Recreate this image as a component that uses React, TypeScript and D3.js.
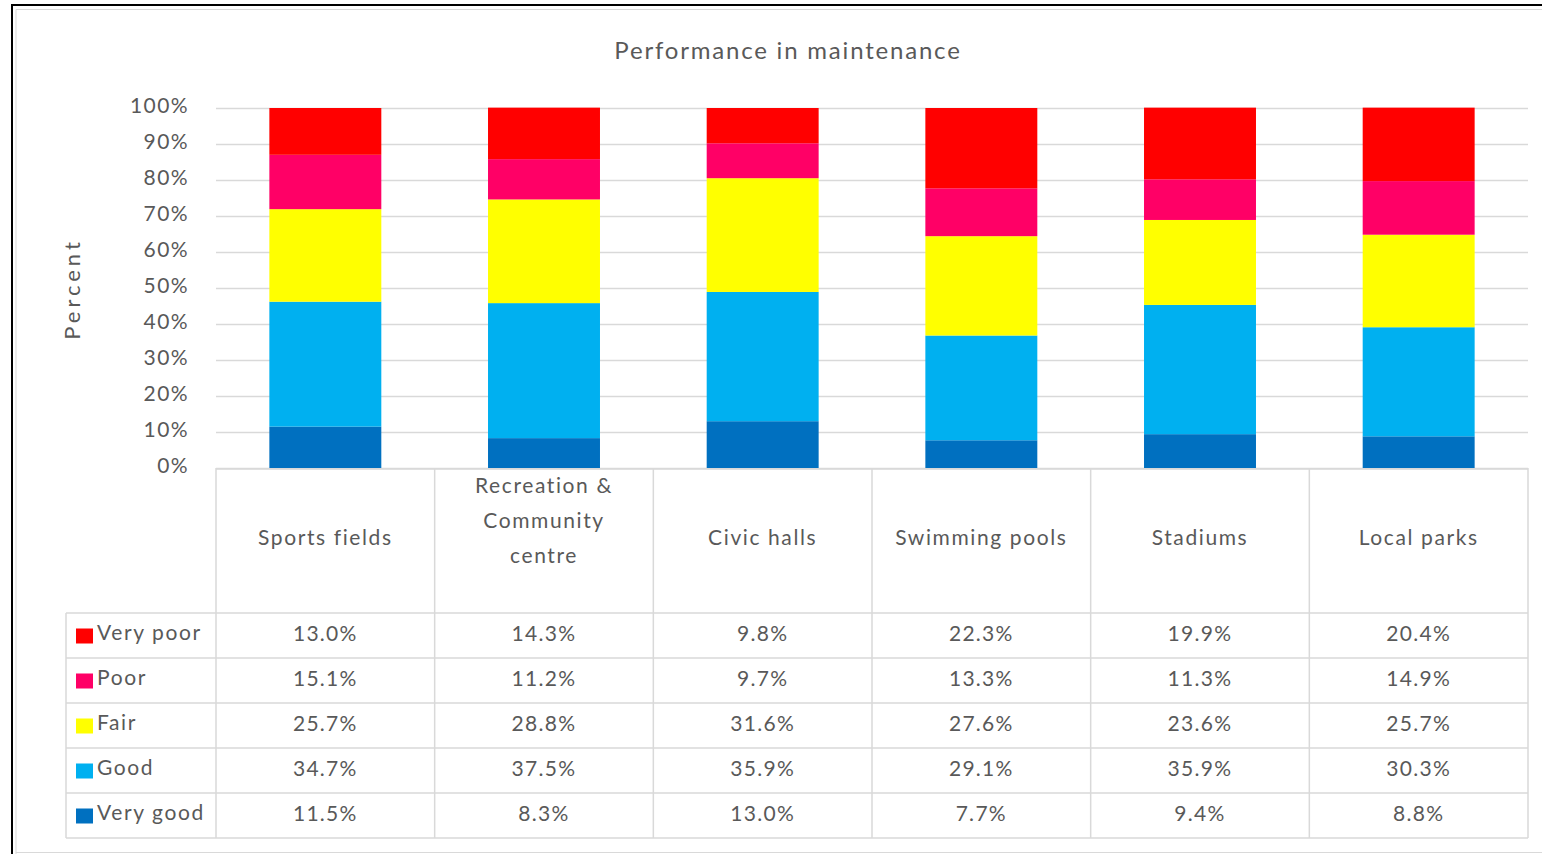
import React from "react";
import * as d3 from "d3";

const categories = ["Sports fields", "Recreation & Community centre", "Civic halls", "Swimming pools", "Stadiums", "Local parks"];
const categoryLines = [["Sports fields"], ["Recreation &", "Community", "centre"], ["Civic halls"], ["Swimming pools"], ["Stadiums"], ["Local parks"]];
const seriesNames = ["Very poor", "Poor", "Fair", "Good", "Very good"];
const seriesColors = ["#FF0000", "#FF0066", "#FFFF00", "#00B0F0", "#0070C0"];
const veryPoor = [13.0, 14.3, 9.8, 22.3, 19.9, 20.4];
const poor = [15.1, 11.2, 9.7, 13.3, 11.3, 14.9];
const fair = [25.7, 28.8, 31.6, 27.6, 23.6, 25.7];
const good = [34.7, 37.5, 35.9, 29.1, 35.9, 30.3];
const veryGood = [11.5, 8.3, 13.0, 7.7, 9.4, 8.8];
const yTicks = [0, 10, 20, 30, 40, 50, 60, 70, 80, 90, 100];

const seriesValues = [veryPoor, poor, fair, good, veryGood];

export default function App() {
  const W = 1542, H = 854;
  const left = 216, right = 1528, top = 108, bottom = 468;
  const x = d3.scaleBand<string>().domain(categories).range([left, right]).paddingInner(0.488).paddingOuter(0.244);
  const xCell = d3.scaleBand<string>().domain(categories).range([left, right]);
  const y = d3.scaleLinear().domain([0, 100]).range([bottom, top]);
  const font = "Lato, 'Open Sans', sans-serif";
  const txt = "#595959";
  const grid = "#D9D9D9";
  const fs = 21;
  const lsNum = 1.3;
  const lsWord = 1.6;

  const rows = categories.map((c, i) => {
    const o: any = { cat: c };
    seriesNames.forEach((s, k) => (o[s] = seriesValues[k][i]));
    return o;
  });
  const stackOrder = [...seriesNames].reverse();
  const stack = d3.stack<any>().keys(stackOrder)(rows);

  const headerBottom = 613;
  const rowH = 45;
  const tableLeft = 66;

  return (
    <svg width={W} height={H} style={{ position: "absolute", left: 0, top: 0 }} fontFamily={font}>
      <rect x={0} y={0} width={W} height={H} fill="#fff" />
      <path d={`M12,${H} V5 H${W}`} fill="none" stroke="#000" strokeWidth={2} />
      <path d={`M16,${H} V9.5 H${W}`} fill="none" stroke="#D9D9D9" strokeWidth={1} />
      <line x1={16} x2={W} y1={852.5} y2={852.5} stroke="#D9D9D9" />
      <text x={788} y={53} textAnchor="middle" dominantBaseline="middle" fontSize={24} fill={txt} letterSpacing={1.8}>Performance in maintenance</text>
      <text transform={`translate(74,${289}) rotate(-90)`} textAnchor="middle" dominantBaseline="middle" fontSize={22} fill={txt} letterSpacing={4}>Percent</text>
      {yTicks.map((t) => (
        <g key={t}>
          <line x1={left} x2={right} y1={y(t) + 0.5} y2={y(t) + 0.5} stroke={grid} strokeWidth={1.5} />
          <text x={189} y={y(t)} textAnchor="end" dominantBaseline="middle" fontSize={fs} fill={txt} letterSpacing={1.4}>{t}%</text>
        </g>
      ))}
      {stack.map((layer) => {
        const color = seriesColors[seriesNames.indexOf(layer.key)];
        return layer.map((d, i) => (
          <rect key={layer.key + i} x={x(categories[i])!} width={x.bandwidth()} y={y(d[1])} height={y(d[0]) - y(d[1])} fill={color} />
        ));
      })}
      <g stroke={grid} strokeWidth={1.5} fill="none">
        <line x1={left} x2={right} y1={bottom + 1} y2={bottom + 1} />
        {categories.map((c) => (
          <line key={c} x1={xCell(c)!} x2={xCell(c)!} y1={bottom} y2={headerBottom + rowH * 5} />
        ))}
        <line x1={right} x2={right} y1={bottom} y2={headerBottom + rowH * 5} />
        <line x1={tableLeft} x2={tableLeft} y1={headerBottom} y2={headerBottom + rowH * 5} />
        {d3.range(6).map((r) => (
          <line key={r} x1={tableLeft} x2={right} y1={headerBottom + r * rowH} y2={headerBottom + r * rowH} />
        ))}
      </g>
      {categoryLines.map((lines, i) => {
        const cx = xCell(categories[i])! + xCell.bandwidth() / 2;
        const lh = 35;
        const cy = lines.length > 1 ? 523 : 540;
        return lines.map((l, j) => (
          <text key={i + "-" + j} x={cx} y={cy + (j - (lines.length - 1) / 2) * lh} textAnchor="middle" dominantBaseline="middle" fontSize={fs} fill={txt} letterSpacing={lsWord}>{l}</text>
        ));
      })}
      {seriesNames.map((s, k) => {
        const cy = headerBottom + k * rowH + rowH / 2;
        return (
          <g key={s}>
            <rect x={76} y={cy - 7} width={17} height={15} fill={seriesColors[k]} />
            <text x={97} y={cy - 1} dominantBaseline="middle" fontSize={fs} fill={txt} letterSpacing={lsWord}>{s}</text>
            {seriesValues[k].map((v, i) => (
              <text key={i} x={xCell(categories[i])! + xCell.bandwidth() / 2} y={cy} textAnchor="middle" dominantBaseline="middle" fontSize={fs} fill={txt} letterSpacing={lsNum}>{v.toFixed(1)}%</text>
            ))}
          </g>
        );
      })}
    </svg>
  );
}
